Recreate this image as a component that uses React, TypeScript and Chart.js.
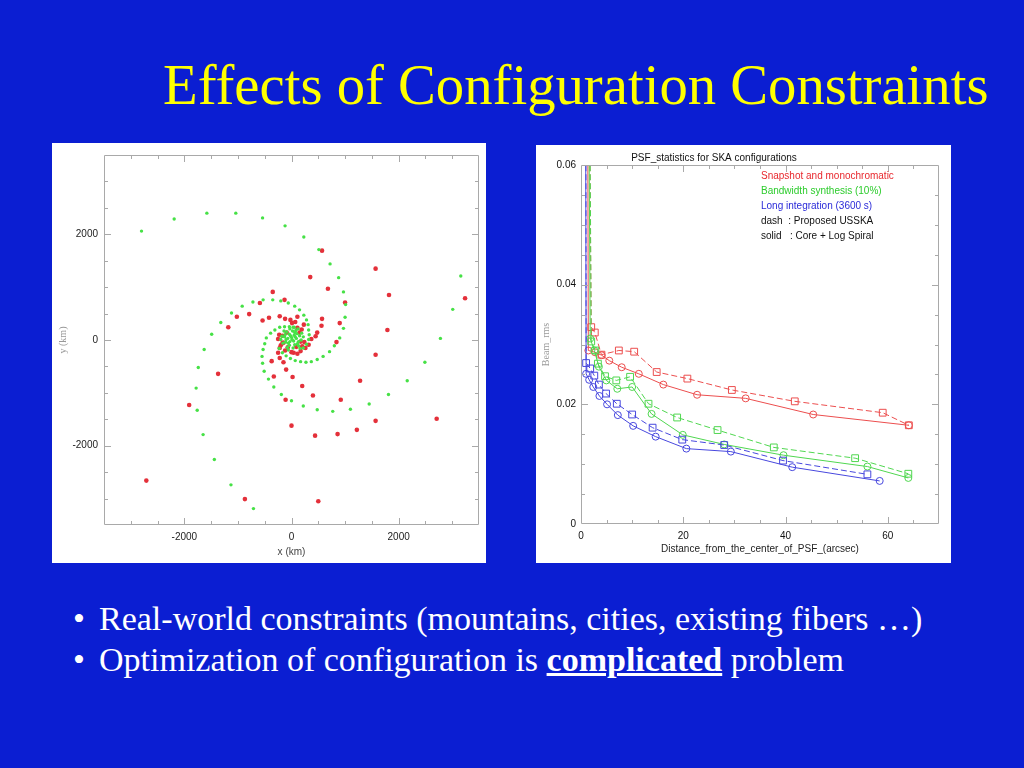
import React, { useEffect, useRef } from "react";
import { Chart, registerables } from "chart.js";

Chart.register(...registerables);

type P = [number, number];

// ---------- Left chart: station positions (km) ----------
const greenArmA: P[] = [
  [-2800, 2060], [-2190, 2290], [-1580, 2400], [-1040, 2400], [-540, 2310], [-120, 2160],
  [230, 1950], [510, 1710], [720, 1440], [880, 1180], [970, 910], [1010, 670], [1000, 430],
  [970, 220], [900, 40], [800, -110], [710, -220], [590, -310], [480, -370], [370, -410],
  [270, -420], [170, -410], [70, -390], [-20, -350], [-100, -300], [-170, -240], [-230, -160],
];
const greenArmB: P[] = [
  [3160, 1210], [3010, 580], [2780, 30], [2490, -420], [2160, -770], [1810, -1030],
  [1450, -1210], [1100, -1310], [770, -1350], [480, -1320], [220, -1250], [0, -1150],
  [-190, -1030], [-330, -890], [-430, -740], [-510, -590], [-540, -440], [-550, -310],
  [-530, -180], [-500, -70], [-470, 40], [-390, 130], [-310, 190], [-220, 240], [-130, 250],
  [-40, 250], [50, 240], [120, 210],
];
const greenArmC: P[] = [
  [-710, -3190], [-1130, -2740], [-1440, -2260], [-1650, -1790], [-1760, -1330], [-1780, -910],
  [-1740, -520], [-1630, -180], [-1490, 110], [-1320, 330], [-1120, 510], [-920, 640],
  [-720, 720], [-530, 760], [-350, 760], [-200, 740], [-60, 700], [60, 640], [150, 570],
  [230, 470], [280, 380], [310, 290], [320, 190], [330, 100], [320, 10], [280, -80], [220, -150],
];
const greenCore: P[] = [
  [0, 50], [50, 90], [-40, 110], [-70, 30], [-30, -30], [40, -20], [90, 30], [100, 120],
  [20, 170], [-90, 150], [-130, 60], [-110, -40], [-40, -100], [60, -90], [130, -30],
  [150, 80], [80, 180], [-30, 210], [-140, 170], [-180, 70], [-160, -60], [-80, -140],
  [30, -150], [130, -110], [180, 0], [190, 130],
  [-60, -60], [70, 60], [-20, 80], [110, -70], [-120, 100], [30, 240], [-200, 10],
  [220, 60], [-60, -190], [160, -160], [10, 10], [60, 140], [-100, 10],
];
const redStations: P[] = [
  [570, 1690], [350, 1190], [1570, 1350], [680, 970], [1820, 850], [3240, 790], [1000, 710],
  [570, 400], [560, 270], [900, 320], [1790, 190], [480, 140], [450, 70], [370, 20], [110, 440],
  [10, 320], [840, -40], [1570, -280], [20, -700], [200, -870], [400, -1050], [1280, -770],
  [920, -1130], [1570, -1530], [1220, -1700], [860, -1780], [440, -1810], [0, -1620],
  [2710, -1490], [500, -3050], [-350, 910], [-130, 760], [-590, 700], [-790, 490], [-1020, 440],
  [-1180, 240], [-540, 370], [-420, 420], [-220, 450], [-120, 400], [-20, 380], [-1370, -640],
  [-1910, -1230], [-2710, -2660], [-870, -3010], [-370, -400], [-330, -690], [-220, -340],
  [-150, -420], [-100, -560], [-110, -1130], [-170, -60], [-220, -150], [-250, -240],
  [40, -240], [110, -260], [170, -210], [260, -150], [320, -90],
  [70, 340], [110, 230], [150, 140], [-90, 140], [-170, 80], [170, -30], [90, -130],
  [-70, -140], [-150, -50],
  [230, 290], [190, 200], [-230, 100], [-250, 20], [240, -40], [200, -120], [-200, -100],
  [-120, -200], [0, -230],
];
const mapLabelledTicks = [-2000, 0, 2000];

// ---------- Right chart: PSF statistics ----------
const redSolid: P[] = [
  [1.3, 0.075], [1.43, 0.029], [2.74, 0.0287], [4.05, 0.0282], [5.53, 0.0273], [7.96, 0.0262],
  [11.3, 0.0251], [16.1, 0.0233], [22.7, 0.0216], [32.2, 0.021], [45.4, 0.0183], [64.1, 0.0165],
];
const redDash: P[] = [
  [1.6, 0.075], [2.0, 0.0329], [2.7, 0.032], [4.0, 0.0283], [7.4, 0.029], [10.4, 0.0288],
  [14.8, 0.0254], [20.8, 0.0243], [29.5, 0.0224], [41.8, 0.0205], [59.0, 0.0186], [64.1, 0.0165],
];
const greenSolid: P[] = [
  [1.5, 0.075], [1.8, 0.031], [2.6, 0.029], [3.5, 0.0263], [4.95, 0.024], [7.1, 0.0226],
  [10.0, 0.0229], [13.8, 0.0184], [19.9, 0.0149], [28.0, 0.0133], [39.6, 0.0115],
  [56.0, 0.0096], [64.0, 0.0077],
];
const greenDash: P[] = [
  [1.7, 0.075], [2.0, 0.0305], [2.8, 0.029], [3.3, 0.0268], [4.7, 0.0247], [6.9, 0.024],
  [9.6, 0.0246], [13.2, 0.0201], [18.8, 0.0178], [26.7, 0.0157], [37.7, 0.0128],
  [53.6, 0.011], [64.0, 0.0084],
];
const blueSolid: P[] = [
  [0.9, 0.075], [1.0, 0.0251], [1.6, 0.0241], [2.4, 0.0229], [3.6, 0.0214], [5.1, 0.02],
  [7.2, 0.0182], [10.2, 0.0164], [14.6, 0.0146], [20.6, 0.0126], [29.3, 0.0121],
  [41.3, 0.0095], [58.4, 0.0072],
];
const blueDash: P[] = [
  [0.95, 0.075], [1.0, 0.0269], [1.8, 0.026], [2.6, 0.0248], [3.5, 0.0233], [4.9, 0.0218],
  [7.0, 0.0201], [10.0, 0.0183], [14.0, 0.0161], [19.8, 0.0141], [28.0, 0.0132],
  [39.5, 0.0106], [56.0, 0.0083],
];
const psfXLabelled = [0, 20, 40, 60];
const psfYLabelled = [0, 0.02, 0.04, 0.06];
const psfTitle = "PSF_statistics for SKA configurations";
const psfLegend = [
  { text: "Snapshot and monochromatic", color: "#e8282e" },
  { text: "Bandwidth synthesis (10%)", color: "#2ccc2c" },
  { text: "Long integration (3600 s)", color: "#2a2ad8" },
  { text: "dash  : Proposed USSKA", color: "#111111" },
  { text: "solid   : Core + Log Spiral", color: "#111111" },
];

const FONT = '"Liberation Sans", Arial, Helvetica, sans-serif';
Chart.defaults.font.family = FONT;

const near = (v: number, list: number[]) => list.some((l) => Math.abs(v - l) < 1e-9);

function frameTicks(id: string, majorX: number[], majorY: number[]) {
  return {
    id,
    afterDatasetsDraw(chart: any) {
      const { ctx, chartArea: a } = chart;
      const xs = chart.scales.x;
      const ys = chart.scales.y;
      ctx.save();
      ctx.strokeStyle = "#a9a9a9";
      ctx.lineWidth = 1;
      ctx.beginPath();
      ctx.rect(Math.round(a.left) + 0.5, Math.round(a.top) + 0.5, Math.round(a.right - a.left) - 1, Math.round(a.bottom - a.top) - 1);
      xs.ticks.forEach((t: any) => {
        if (t.value <= xs.min || t.value >= xs.max) return;
        const p = Math.round(xs.getPixelForValue(t.value)) + 0.5;
        const L = near(t.value, majorX) ? 7 : 4;
        ctx.moveTo(p, a.bottom);
        ctx.lineTo(p, a.bottom - L);
        ctx.moveTo(p, a.top);
        ctx.lineTo(p, a.top + L);
      });
      ys.ticks.forEach((t: any) => {
        if (t.value <= ys.min + 1e-12 || t.value >= ys.max - 1e-12) return;
        const p = Math.round(ys.getPixelForValue(t.value)) + 0.5;
        const L = near(t.value, majorY) ? 7 : 4;
        ctx.moveTo(a.left, p);
        ctx.lineTo(a.left + L, p);
        ctx.moveTo(a.right, p);
        ctx.lineTo(a.right - L, p);
      });
      ctx.stroke();
      ctx.restore();
    },
  };
}

const psfText = {
  id: "psfText",
  afterDraw(chart: any) {
    const { ctx, chartArea: a } = chart;
    ctx.save();
    ctx.font = `10px ${FONT}`;
    ctx.textBaseline = "middle";
    ctx.textAlign = "center";
    ctx.fillStyle = "#111";
    ctx.fillText(psfTitle, a.left + 133, 13);
    ctx.textAlign = "left";
    psfLegend.forEach((l, i) => {
      ctx.fillStyle = l.color;
      ctx.fillText(l.text, a.left + 180, a.top + 11 + i * 15);
    });
    ctx.restore();
  },
};

const toXY = (arr: P[]) => arr.map(([x, y]) => ({ x, y }));

function MapChart() {
  const ref = useRef<HTMLCanvasElement | null>(null);
  useEffect(() => {
    if (!ref.current) return;
    const green = [...greenArmA, ...greenArmB, ...greenArmC, ...greenCore];
    const chart = new Chart(ref.current, {
      type: "scatter",
      data: {
        datasets: [
          { data: toXY(green), pointRadius: 1.7, pointBorderWidth: 0, pointBackgroundColor: "rgb(70,225,70)", backgroundColor: "rgb(70,225,70)" },
          { data: toXY(redStations), pointRadius: 2.3, pointBorderWidth: 0, pointBackgroundColor: "rgb(228,48,58)", backgroundColor: "rgb(228,48,58)" },
        ],
      } as any,
      options: {
        animation: false,
        responsive: false,
        events: [],
        layout: { padding: { left: 0, top: 8, right: 7, bottom: 0 } },
        plugins: { legend: { display: false }, tooltip: { enabled: false } },
        scales: {
          x: {
            type: "linear", min: -3500, max: 3500,
            grid: { display: false, drawTicks: false }, border: { display: false },
            ticks: { stepSize: 500, autoSkip: false, maxRotation: 0, padding: 6, color: "#222", font: { size: 10 },
              callback: (v: any) => (near(Number(v), mapLabelledTicks) ? String(v) : "") },
            title: { display: true, text: "x (km)", color: "#444", font: { size: 10 }, padding: { top: 0, bottom: 5 } },
            afterFit: (s: any) => { s.height = 38; },
          },
          y: {
            type: "linear", min: -3500, max: 3500,
            grid: { display: false, drawTicks: false }, border: { display: false },
            ticks: { stepSize: 500, autoSkip: false, padding: 6, color: "#222", font: { size: 10 },
              callback: (v: any) => (near(Number(v), mapLabelledTicks) ? String(v) : "") },
            title: { display: true, text: "y (km)", color: "#999", font: { size: 10, family: '"Liberation Serif", serif' }, padding: { top: 5, bottom: 0 } },
            afterFit: (s: any) => { s.width = 52; },
          },
        },
      } as any,
      plugins: [frameTicks("mapFrame", mapLabelledTicks, mapLabelledTicks)],
    });
    return () => chart.destroy();
  }, []);
  return <canvas ref={ref} width={434} height={420} style={{ display: "block", width: 434, height: 420 }} />;
}

function PsfChart() {
  const ref = useRef<HTMLCanvasElement | null>(null);
  useEffect(() => {
    if (!ref.current) return;
    const radius = (r: number) => (c: any) => (c.raw && c.raw.y > 0.06 ? 0 : r);
    const mk = (arr: P[], color: string, dashed: boolean) => ({
      data: toXY(arr),
      showLine: true,
      borderColor: color,
      borderWidth: 1,
      borderDash: dashed ? [6, 3] : [],
      tension: 0,
      pointStyle: dashed ? "rect" : "circle",
      pointRadius: radius(dashed ? 4.8 : 3.5),
      pointBorderColor: color,
      pointBorderWidth: 1,
      pointBackgroundColor: "rgba(0,0,0,0)",
      backgroundColor: "rgba(0,0,0,0)",
    });
    const red = "rgb(236,78,78)";
    const green = "rgb(80,215,80)";
    const blue = "rgb(72,72,222)";
    const chart = new Chart(ref.current, {
      type: "scatter",
      data: {
        datasets: [
          mk(blueSolid, blue, false),
          mk(blueDash, blue, true),
          mk(greenSolid, green, false),
          mk(greenDash, green, true),
          mk(redSolid, red, false),
          mk(redDash, red, true),
        ],
      } as any,
      options: {
        animation: false,
        responsive: false,
        events: [],
        layout: { padding: { left: 0, top: 20, right: 12, bottom: 0 } },
        plugins: { legend: { display: false }, tooltip: { enabled: false } },
        scales: {
          x: {
            type: "linear", min: 0, max: 70,
            grid: { display: false, drawTicks: false }, border: { display: false },
            ticks: { stepSize: 5, autoSkip: false, maxRotation: 0, padding: 6, color: "#111", font: { size: 10 },
              callback: (v: any) => (near(Number(v), psfXLabelled) ? String(v) : "") },
            title: { display: true, text: "Distance_from_the_center_of_PSF_(arcsec)", color: "#222", font: { size: 10 }, padding: { top: 0, bottom: 8 } },
            afterFit: (s: any) => { s.height = 39; },
          },
          y: {
            type: "linear", min: 0, max: 0.06,
            grid: { display: false, drawTicks: false }, border: { display: false },
            ticks: { stepSize: 0.005, autoSkip: false, padding: 5, color: "#111", font: { size: 10 },
              callback: (v: any) => {
                const n = Number(v);
                if (!near(n, psfYLabelled)) return "";
                return Math.abs(n) < 1e-12 ? "0" : n.toFixed(2);
              } },
            title: { display: true, text: "Beam_rms", color: "#9a9a9a", font: { size: 10, family: '"Liberation Serif", serif' }, padding: { top: 4, bottom: 0 } },
            afterFit: (s: any) => { s.width = 45; },
          },
        },
      } as any,
      plugins: [frameTicks("psfFrame", psfXLabelled, psfYLabelled), psfText],
    });
    return () => chart.destroy();
  }, []);
  return <canvas ref={ref} width={415} height={418} style={{ display: "block", width: 415, height: 418 }} />;
}

export default function App() {
  const serif = '"Liberation Serif", "Times New Roman", Times, serif';
  return (
    <div style={{ position: "absolute", left: 0, top: 0, width: 1024, height: 768, background: "#0b1ed2", overflow: "hidden", fontFamily: serif }}>
      <div style={{ position: "absolute", left: 163, top: 57, fontSize: 56.7, lineHeight: "56px", color: "#ffff00", whiteSpace: "nowrap" }}>
        Effects of Configuration Constraints
      </div>
      <div style={{ position: "absolute", left: 52, top: 143, width: 434, height: 420, background: "#fff" }}>
        <MapChart />
      </div>
      <div style={{ position: "absolute", left: 536, top: 145, width: 415, height: 418, background: "#fff" }}>
        <PsfChart />
      </div>
      <div style={{ position: "absolute", left: 73, top: 598, fontSize: 34, lineHeight: "41px", color: "#fff", whiteSpace: "nowrap" }}>•</div>
      <div style={{ position: "absolute", left: 99, top: 598, fontSize: 34, lineHeight: "41px", color: "#fff", whiteSpace: "nowrap" }}>
        Real-world constraints (mountains, cities, existing fibers …)
      </div>
      <div style={{ position: "absolute", left: 73, top: 639, fontSize: 34, lineHeight: "41px", color: "#fff", whiteSpace: "nowrap" }}>•</div>
      <div style={{ position: "absolute", left: 99, top: 639, fontSize: 34, lineHeight: "41px", color: "#fff", whiteSpace: "nowrap" }}>
        Optimization of configuration is <b style={{ textDecoration: "underline" }}>complicated</b> problem
      </div>
    </div>
  );
}
